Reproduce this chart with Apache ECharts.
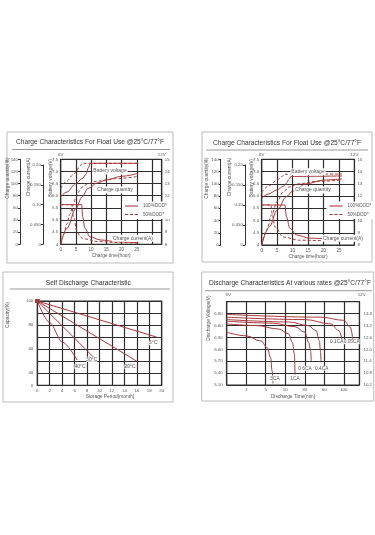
<!DOCTYPE html>
<html><head><meta charset="utf-8">
<script src="https://cdn.jsdelivr.net/npm/echarts@6/dist/echarts.min.js"></script>
<style>html,body{margin:0;padding:0;background:#fff}#c{width:375px;height:535px}</style>
</head><body><div id="c"></div>
<script>
// ---------- DATA ----------
// Charge characteristics (panel 1) : [hour, value]
const c1VoltSolid  = [[0,11.9],[2,12.3],[5,13.0],[7,13.4],[8.3,13.75],[9.1,14.3],[9.7,14.67],[25.5,14.67]];
const c1VoltDashed = [[0,12.6],[2,13.2],[4,13.7],[5,13.95],[6.3,14.45],[7.2,14.67],[25.5,14.67]];
const c1QtySolid   = [[0,0],[2,26],[5,59],[7,78],[9,92],[12,101],[15,106],[20,112],[25.5,117]];
const c1QtyDashed  = [[0,0],[1,16],[2,33],[3,49],[4,64],[5,77],[6,87],[7,94],[9,100],[12,104],[18,108],[25.5,112]];
const c1CurSolid   = [[0,0.1],[6.9,0.1],[7.2,0.069],[8,0.04],[9.6,0.019],[13,0.011],[19,0.006],[25.5,0.004]];
const c1CurDashed  = [[0,0.1],[3.6,0.1],[4.2,0.069],[5.3,0.035],[6.3,0.02],[7.5,0.014],[12,0.007],[20,0.004],[25.5,0.003]];
// Charge characteristics (panel 2)
const c2VoltSolid  = [[0,11.8],[2,12.15],[5,12.5],[7,12.8],[8,13.05],[8.8,13.35],[9.5,13.6],[26,13.64]];
const c2VoltDashed = [[0,12.3],[2.5,12.85],[5,13.3],[6.5,13.6],[7.5,13.78],[26,13.8]];
const c2QtySolid   = [[0,0],[2.5,30],[5,57],[8,79],[10,88],[14.5,100],[20,106],[26,108]];
const c2QtyDashed  = [[0,0],[1.6,24],[3.2,49],[5,71],[7,87],[9,95],[12,100],[18,104],[26,106]];
const c2CurSolid   = [[0,0.1],[7.5,0.1],[8,0.071],[9.1,0.042],[11.3,0.025],[15.6,0.017],[26,0.0125]];
const c2CurDashed  = [[0,0.1],[3,0.1],[3.3,0.08],[4.3,0.045],[7,0.02],[12,0.012],[26,0.009]];
// Charge axes tick labels
const chargeTimeTicks = ['0','5','10','15','20','25'];
const chargeQtyTicks  = ['0','20','40','60','80','100','120','140'];
const chargeCurTicks  = ['0','0.050','0.10','0.150','0.20'];
const volt6Ticks      = ['4','4.5','5.0','5.5','6.0','6.5','7.0','7.5'];
const volt12Ticks     = ['8','9','10','11','12','13','14','15'];
const dodNames        = ['100%DOD*','50%DOD*'];
// Self discharge : [month, capacity %]
const sd5C  = [[0,100],[19.2,70]];
const sd20C = [[0,100],[16,50]];
const sd30C = [[0,100],[9.5,51]];
const sd40C = [[0,100],[2,82],[4,66],[6.4,51]];
const sdTempLabels = ['5°C','20°C','30°C','40°C'];
// Discharge at various rates : [grid position, volts (6V)]
const dc3CA   = [[0,6.43],[1,6.34],[1.75,6.21],[2.08,6.04],[2.25,5.79],[2.33,5.44],[2.37,5.14]];
const dc1CA   = [[0,6.64],[1.5,6.6],[2.67,6.51],[3.17,6.39],[3.37,6.17],[3.47,5.87],[3.5,5.36]];
const dc06CA  = [[0,6.71],[2.33,6.66],[3.5,6.57],[4,6.43],[4.2,6.17],[4.3,5.96],[4.33,5.7]];
const dc04CA  = [[0,6.75],[3.17,6.69],[4.17,6.6],[4.58,6.47],[4.75,6.21],[4.8,5.96],[4.83,5.7]];
const dc01CA  = [[0,6.81],[4,6.75],[5.33,6.64],[5.75,6.47],[5.92,6.21]];
const dc005CA = [[0,6.88],[4.83,6.81],[6,6.73],[6.33,6.56],[6.47,6.21]];
const dcRateLabels = ['3CA','1CA','0.6CA','0.4CA','0.1CA','0.05CA'];
const dcTimeTicks = ['','1','5','10','30','60','100'];

// ---------- STYLE ----------
const FONT = '"Liberation Sans", Arial, sans-serif';
const RED = '#a63a3c';
const GRIDC = '#2e2e2e';
const TXT = '#555';
const grids=[], xAxes=[], yAxes=[], series=[], graphics=[], legends=[];
function ts(fs){return {fontSize:fs||4.6,color:TXT,fontFamily:FONT};}
function line(name, xi, yi, data, dashed, smooth){
  return {type:'line', name, xAxisIndex:xi, yAxisIndex:yi, data, showSymbol:false, symbol:'none',
    smooth: smooth===undefined?0.35:smooth, smoothMonotone:'x', silent:true, z:3,
    lineStyle:{color:RED, width:1, type: dashed?[3,2]:'solid'}, itemStyle:{color:RED}};
}
function text(t,x,y,fs,opt){
  graphics.push({type:'text', z:50, style:Object.assign({text:t,x:x,y:y,fill:TXT,font:(fs||5)+'px '+FONT,textAlign:'center',textVerticalAlign:'middle'},opt||{})});
}
function vtext(t,x,y,fs){
  graphics.push({type:'text', z:50, x:x, y:y, rotation:Math.PI/2, style:{text:t,x:0,y:0,fill:TXT,font:(fs||4.8)+'px '+FONT,textAlign:'center',textVerticalAlign:'middle'}});
}
function rect(x,y,w,h,stroke){graphics.push({type:'rect',z:1,shape:{x,y,width:w,height:h},style:{fill:'none',stroke:stroke||'#bbb',lineWidth:1}});}
function hline(x1,x2,y,c){graphics.push({type:'line',z:1,shape:{x1,y1:y,x2,y2:y},style:{stroke:c||'#999',lineWidth:1}});}
function auxAxis(left, top, height, min, max, interval, labels){
  const gi=grids.length; grids.push({left, top, width:10, height});
  xAxes.push({gridIndex:gi, type:'value', show:false, min:0, max:1});
  yAxes.push({gridIndex:gi, type:'value', position:'left', min, max, interval,
    axisLine:{show:true,lineStyle:{color:'#333',width:1}}, axisTick:{show:true,length:2,lineStyle:{color:'#333'}},
    splitLine:{show:false}, axisLabel:Object.assign(ts(4.4),{margin:2,formatter:v=>labels[Math.round((v-min)/interval)]||''})});
}

function chargePanel(G, D){
  rect(G.box[0],G.box[1],G.box[2],G.box[3]);
  text('Charge Characteristics For Float Use @25°C/77°F', G.titleX, G.titleY, 6.6, {fill:'#333'});
  hline(G.uline[0], G.uline[1], G.uline[2]);
  const gi = grids.length;
  grids.push({left:G.plotL, top:G.plotT, width:G.plotW, height:G.plotH, show:true, borderColor:GRIDC, borderWidth:1.2});
  const xi = xAxes.length;
  xAxes.push({gridIndex:gi, type:'value', min:0, max:G.xMax, interval:5, axisLine:{show:false}, axisTick:{show:false},
    splitLine:{show:true,lineStyle:{color:GRIDC,width:1.2}},
    axisLabel:Object.assign(ts(),{margin:3, formatter:v=>chargeTimeTicks[v/5]||''}),
    name:'Charge time(hour)', nameLocation:'middle', nameGap:9, nameTextStyle:ts(4.8)});
  yAxes.push({gridIndex:gi, type:'value', position:'left', min:4, max:7.5, interval:0.5,
    axisLine:{show:false}, axisTick:{show:false}, splitLine:{show:true,lineStyle:{color:GRIDC,width:1.2}},
    axisLabel:Object.assign(ts(4.4),{margin:2.5, formatter:v=>volt6Ticks[Math.round((v-4)/0.5)]||''})});
  const yV12=yAxes.length;
  yAxes.push({gridIndex:gi, type:'value', position:'right', min:8, max:15, interval:1,
    axisLine:{show:false}, axisTick:{show:false}, splitLine:{show:false},
    axisLabel:Object.assign(ts(4.4),{margin:3, formatter:v=>volt12Ticks[Math.round(v-8)]||''})});
  const yQ=yAxes.length; yAxes.push({gridIndex:gi, type:'value', show:false, min:0, max:140});
  const yC=yAxes.length; yAxes.push({gridIndex:gi, type:'value', show:false, min:0, max:0.2*G.plotH/(G.plotT+G.plotH-G.curTop)});
  auxAxis(G.qtyX, G.plotT, G.plotH, 0, 140, 20, chargeQtyTicks);
  auxAxis(G.curX, G.curTop, G.plotT+G.plotH-G.curTop, 0, 0.2, 0.05, chargeCurTicks);
  vtext('Charge quantity(%)', G.names[0], 178);
  vtext('Charge current(A)', G.names[1], 177);
  vtext('Battery voltage(V)', G.names[2], 178);
  series.push(line(dodNames[0], xi, yV12, D.vs, false));
  series.push(line(dodNames[1], xi, yV12, D.vd, true));
  series.push(line(dodNames[0], xi, yQ, D.qs, false));
  series.push(line(dodNames[1], xi, yQ, D.qd, true));
  series.push(line(dodNames[0], xi, yC, D.cs, false));
  series.push(line(dodNames[1], xi, yC, D.cd, true));
  text('6V', G.plotL, G.plotT-4.5, 4.4);
  text('12V', G.plotL+G.plotW, G.plotT-4.5, 4.4);
  const bg={backgroundColor:'#fff',padding:[1,1]};
  text('Battery voltage', G.bv[0], G.bv[1], 5, bg);
  text('Charge quantity', G.cq[0], G.cq[1], 5, bg);
  text('Charge current(A)', G.cc[0], G.cc[1], 5, bg);
  legends.push({orient:'vertical', left:G.leg[0], top:G.leg[1], itemWidth:13, itemHeight:1.2, itemGap:3.5, padding:[2,3],
    backgroundColor:'#fff', selectedMode:false, textStyle:ts(4.6), itemStyle:{color:RED},
    data:[{name:dodNames[0], icon:'path://M0,0h12v1h-12z'},
          {name:dodNames[1], icon:'path://M0,0h3v1h-3z M4.5,0h3v1h-3z M9,0h3v1h-3z'}]});
}

chargePanel({box:[7,132,166,131], titleX:90, titleY:142.5, uline:[12,170,149.5],
  plotL:60.7, plotT:159.3, plotW:101, plotH:85, xMax:33.2, qtyX:20, curX:43, curTop:165, names:[7.5,28.5,50.5],
  bv:[110,171], cq:[115,190], cc:[133,238.3], leg:[122,201.5]},
  {vs:c1VoltSolid, vd:c1VoltDashed, qs:c1QtySolid, qd:c1QtyDashed, cs:c1CurSolid, cd:c1CurDashed});
chargePanel({box:[202,132,170,130], titleX:287, titleY:143, uline:[206,368,150],
  plotL:261.7, plotT:159.3, plotW:92.7, plotH:85.7, xMax:30, qtyX:220.7, curX:245, curTop:165, names:[207,229.5,252],
  bv:[308,171.7], cq:[313,190], cc:[343,238.3], leg:[326.5,201.5]},
  {vs:c2VoltSolid, vd:c2VoltDashed, qs:c2QtySolid, qd:c2QtyDashed, cs:c2CurSolid, cd:c2CurDashed});

// ---------- Self discharge ----------
rect(3,272,170,130);
text('Self Discharge Characteristic', 88.3, 282.7, 6.6, {fill:'#333'});
hline(10,170,289);
(function(){
  const gi=grids.length;
  grids.push({left:37.3, top:301, width:124.4, height:84.3, show:true, borderColor:GRIDC, borderWidth:1.2});
  const xi=xAxes.length;
  xAxes.push({gridIndex:gi, type:'value', min:0, max:20, interval:2, axisLine:{show:false}, axisTick:{show:false},
    splitLine:{show:true,lineStyle:{color:GRIDC,width:1.2}}, axisLabel:Object.assign(ts(4.4),{margin:3})});
  const yi=yAxes.length;
  yAxes.push({gridIndex:gi, type:'value', min:30, max:100, interval:10, axisLine:{show:false}, axisTick:{show:false},
    splitLine:{show:true,lineStyle:{color:GRIDC,width:1.2}},
    axisLabel:Object.assign(ts(4.4),{margin:4, formatter:v=>v===30?'0':(v%20===0?String(v):'')})});
  text('Storage Period(month)', 110, 396.7, 4.8);
  vtext('Capacity(%)', 8, 315);
  const sets=[sd5C,sd20C,sd30C,sd40C];
  sets.forEach((d,i)=>{
    const s=line(sdTempLabels[i], xi, yi, d.map((p,k)=>k===0?{value:p,symbol:'rect',symbolSize:4}:p), false, i===3?0.3:false);
    s.showSymbol=true; s.symbol='none'; series.push(s);
  });
  text('5°C',153.3,342.7,5,{backgroundColor:'#fff'});
  text('20°C',130,366.7,5,{backgroundColor:'#fff'});
  text('30°C',91.7,359.3,5,{backgroundColor:'#fff'});
  text('40°C',80,366.7,5,{backgroundColor:'#fff'});
})();

// ---------- Discharge at various rates ----------
rect(201.7,272,172,129);
text('Discharge Characteristics At various rates @25°C/77°F', 290, 283.3, 6.6, {fill:'#333'});
hline(205,372,290.7);
(function(){
  const gi=grids.length;
  grids.push({left:226.7, top:301.7, width:136, height:83.3, show:true, borderColor:GRIDC, borderWidth:1.2});
  const xi=xAxes.length;
  xAxes.push({gridIndex:gi, type:'value', min:0, max:6.8, interval:1, axisLine:{show:false}, axisTick:{show:false},
    splitLine:{show:true,lineStyle:{color:GRIDC,width:1.2}},
    axisLabel:Object.assign(ts(4.4),{margin:3, formatter:v=>dcTimeTicks[v]||''}),
    name:'Discharge Time(min)', nameLocation:'middle', nameGap:9, nameTextStyle:ts(4.8)});
  const yi=yAxes.length;
  yAxes.push({gridIndex:gi, type:'value', position:'left', min:5.1, max:7.2, interval:0.3, axisLine:{show:false}, axisTick:{show:false},
    splitLine:{show:true,lineStyle:{color:GRIDC,width:1.2}},
    axisLabel:Object.assign(ts(4.4),{margin:4, formatter:v=>v>7.1?'':v.toFixed(2)})});
  yAxes.push({gridIndex:gi, type:'value', position:'right', min:10.2, max:14.4, interval:0.6, axisLine:{show:false}, axisTick:{show:false},
    splitLine:{show:false}, axisLabel:Object.assign(ts(4.4),{margin:4, formatter:v=>v>14.3?'':v.toFixed(1)})});
  vtext('Discharge Voltage(V)', 208.5, 318);
  [dc3CA,dc1CA,dc06CA,dc04CA,dc01CA,dc005CA].forEach((d,i)=>series.push(line(dcRateLabels[i], xi, yi, d, false, 0.4)));
  text('6V',228.3,295,4.4); text('12V',361.7,295,4.4);
  const pos=[[275,378.3],[295,378.3],[305,368.3],[321.7,368.3],[336.7,341.7],[351.7,341.7]];
  dcRateLabels.forEach((t,i)=>text(t,pos[i][0],pos[i][1],4.8,{backgroundColor:'#fff'}));
})();

const chart = echarts.init(document.getElementById('c'), null, {renderer:'canvas'});
chart.setOption({animation:false, backgroundColor:'#fff', grid:grids, xAxis:xAxes, yAxis:yAxes, series, legend:legends, graphic:graphics});
</script></body></html>
